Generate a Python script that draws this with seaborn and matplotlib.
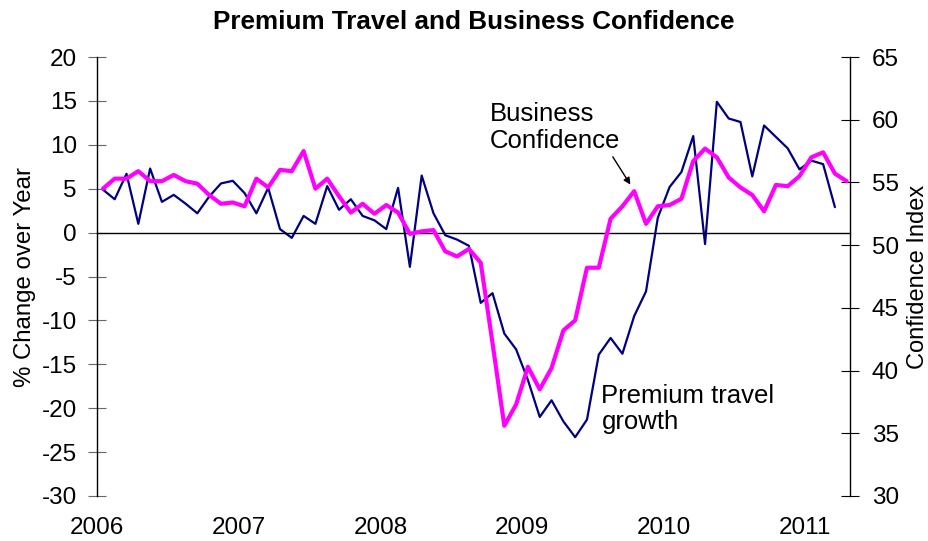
import numpy as np
import pandas as pd
import matplotlib
matplotlib.use('Agg')
import matplotlib.pyplot as plt
import seaborn as sns

# monthly data, Jan 2006 onwards
travel_growth = [4.9, 3.8, 6.7, 1.0, 7.3, 3.5, 4.3, 3.3, 2.2, 4.1, 5.6, 5.9,
                 4.5, 2.2, 5.1, 0.4, -0.6, 1.9, 1.0, 5.3, 2.6, 3.8, 1.9, 1.4,
                 0.4, 5.1, -3.9, 6.5, 2.2, -0.3, -0.8, -1.5, -8.0, -6.9, -11.5, -13.3,
                 -16.8, -21.0, -19.1, -21.5, -23.3, -21.3, -13.9, -12.0, -13.8, -9.5, -6.7, 1.7,
                 5.2, 6.9, 11.0, -1.3, 14.9, 13.0, 12.6, 6.4, 12.2, 10.9, 9.6, 7.2,
                 8.2, 7.8, 2.9]
confidence = [54.5, 55.3, 55.3, 55.9, 55.1, 55.1, 55.6, 55.1, 54.9, 54.0, 53.3, 53.4,
              53.1, 55.3, 54.6, 56.0, 55.9, 57.5, 54.5, 55.3, 53.9, 52.6, 53.3, 52.5,
              53.2, 52.6, 50.9, 51.1, 51.2, 49.5, 49.1, 49.7, 48.6, 42.2, 35.6, 37.3,
              40.3, 38.5, 40.2, 43.2, 44.0, 48.2, 48.2, 52.1, 53.1, 54.3, 51.7, 53.1,
              53.2, 53.7, 56.7, 57.7, 57.0, 55.4, 54.6, 54.0, 52.7, 54.8, 54.7, 55.5,
              57.0, 57.4, 55.7, 55.1]
years = [2006, 2007, 2008, 2009, 2010, 2011]

# points plotted mid-month
df_travel = pd.DataFrame({'t': 2006 + (np.arange(len(travel_growth)) + 0.5) / 12,
                          'growth': travel_growth})
df_conf = pd.DataFrame({'t': 2006 + (np.arange(len(confidence)) + 0.5) / 12,
                        'index': confidence})

sns.set_style('white')
plt.rcParams['font.family'] = ['Liberation Sans', 'DejaVu Sans']
plt.rcParams['axes.unicode_minus'] = False
plt.rcParams['text.color'] = 'black'
plt.rcParams['axes.labelcolor'] = 'black'
plt.rcParams['xtick.labelcolor'] = 'black'
plt.rcParams['ytick.labelcolor'] = 'black'

fig = plt.figure(figsize=(9.29, 5.41), dpi=100)
ax = fig.add_axes([0.1044, 0.0832, 0.8106, 0.8114])
ax2 = ax.twinx()

sns.lineplot(data=df_travel, x='t', y='growth', ax=ax, color='#000080', linewidth=1.6)
sns.lineplot(data=df_conf, x='t', y='index', ax=ax2, color='#FF00FF', linewidth=3)

ax.set_xlim(2006, 2011.315)
ax.set_ylim(-30, 20)
ax.set_yticks(range(-30, 21, 5))
ax2.set_ylim(30, 65)
ax2.set_yticks(range(30, 66, 5))

# x axis drawn along zero, labels at the bottom
ax.spines['bottom'].set_position(('data', 0))
ax.spines['top'].set_visible(False)
ax.spines['right'].set_visible(False)
ax2.spines['top'].set_visible(False)
ax2.spines['bottom'].set_visible(False)
ax2.spines['left'].set_visible(False)
for sp in ['bottom', 'left']:
    ax.spines[sp].set_color('black')
    ax.spines[sp].set_linewidth(1)
ax2.spines['right'].set_color('black')
ax2.spines['right'].set_linewidth(1)

ax.set_xticks(years)
ax.tick_params(axis='x', direction='inout', length=12, color='#666666', labelbottom=False)
ax.tick_params(axis='y', direction='inout', length=13, color='#666666', labelsize=17.5, pad=8)
ax2.tick_params(axis='y', direction='inout', length=13, color='black', labelsize=17.5, pad=9)

sec = ax.secondary_xaxis('bottom')
sec.set_xticks(years)
sec.tick_params(length=0, labelsize=17.5, pad=15)
sec.spines['bottom'].set_visible(False)

ax.set_xlabel('')
ax.set_ylabel('% Change over Year', fontsize=17.3, labelpad=4)
ax2.set_ylabel('Confidence Index', fontsize=17, labelpad=6)
ax.set_title('Premium Travel and Business Confidence', fontsize=18.8, fontweight='bold', pad=20)

ax.text(2008.77, 12.0, 'Business\nConfidence', fontsize=18.5, va='center', ha='left', linespacing=1.15)
ax.text(2009.56, -20.1, 'Premium travel\ngrowth', fontsize=18.5, va='center', ha='left', linespacing=1.15)
ax.annotate('', xy=(2009.775, 5.2), xytext=(2009.63, 8.9),
            arrowprops=dict(arrowstyle='-|>', color='black', lw=1, mutation_scale=10))

plt.savefig('out.png', dpi=100)
